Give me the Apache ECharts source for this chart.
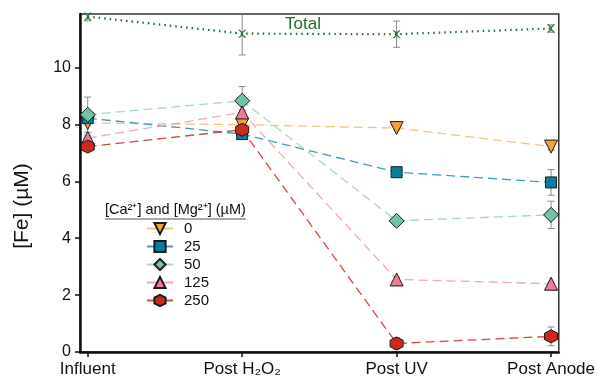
<!DOCTYPE html>
<html>
<head>
<meta charset="utf-8">
<script src="https://cdn.jsdelivr.net/npm/echarts@6/dist/echarts.min.js"></script>
<style>
  html, body { margin: 0; padding: 0; background: #fff; }
  #chart { width: 598px; height: 381px; }
</style>
</head>
<body>
<div id="chart"></div>
<script>
// sampling stages, placed at x = 0..3
const stages = ['Influent', 'Post H\u2082O\u2082', 'Post UV', 'Post Anode'];
const stageX = [0, 1, 2, 3];

const totalFe = [11.79, 11.19, 11.17, 11.37];
const totalErr = [0.15, 0.75, 0.46, 0.13];

const fe0 = [8.05, 7.99, 7.87, 7.22];
const err0 = [0.08, 0.1, 0.06, 0.12];
const fe25 = [8.22, 7.66, 6.32, 5.96];
const err25 = [0.08, 0.1, 0.06, 0.45];
const fe50 = [8.34, 8.83, 4.61, 4.82];
const err50 = [0.62, 0.5, 0.08, 0.48];
const fe125 = [7.52, 8.42, 2.55, 2.40];
const err125 = [0.1, 0.08, 0.08, 0.06];
const fe250 = [7.22, 7.81, 0.30, 0.55];
const err250 = [0.1, 0.1, 0.2, 0.33];

const legendNames = ['0', '25', '50', '125', '250'];
const yTicks = [0, 2, 4, 6, 8, 10];

const FONT = 'Liberation Sans, Arial, sans-serif';
const Y_MAX = 11.88;
const hexagon = 'path://M0,-10L8.66,-5L8.66,5L0,10L-8.66,5L-8.66,-5Z';
const cross = 'path://M0,0L2,0L5,3L8,0L10,0L6,4L6,6L10,10L8,10L5,7L2,10L0,10L4,6L4,4Z';

function pairs(vals) {
  return vals.map((v, i) => [stageX[i], v]);
}
function errData(vals, errs) {
  return vals.map((v, i) => [stageX[i], v - errs[i], v + errs[i]]);
}

const groups = [
  { name: '0', vals: fe0, errs: err0, symbol: 'triangle', rotate: 180, size: 13, mark: '#F5A335', line: '#F3C27B' },
  { name: '25', vals: fe25, errs: err25, symbol: 'rect', rotate: 0, size: 11, mark: '#0B7EA0', line: '#3D9CBC' },
  { name: '50', vals: fe50, errs: err50, symbol: 'diamond', rotate: 0, size: 15, mark: '#72C3A3', line: '#A4D8BF' },
  { name: '125', vals: fe125, errs: err125, symbol: 'triangle', rotate: 0, size: 13, mark: '#EF7C97', line: '#F2A7B8' },
  { name: '250', vals: fe250, errs: err250, symbol: hexagon, rotate: 0, size: 13, mark: '#CF291E', line: '#D24B40' }
];

function errorSeries(vals, errs) {
  return {
    type: 'custom',
    z: 1,
    silent: true,
    data: errData(vals, errs),
    renderItem: function (params, api) {
      const x = api.value(0);
      const lo = api.coord([x, api.value(1)]);
      const hi = api.coord([x, Math.min(api.value(2), Y_MAX)]);
      const capTop = api.value(2) < Y_MAX;
      const w = 3.5;
      const st = { stroke: '#8a8a8a', lineWidth: 1 };
      const kids = [
        { type: 'line', shape: { x1: lo[0], y1: lo[1], x2: hi[0], y2: hi[1] }, style: st },
        { type: 'line', shape: { x1: lo[0] - w, y1: lo[1], x2: lo[0] + w, y2: lo[1] }, style: st }
      ];
      if (capTop) {
        kids.push({ type: 'line', shape: { x1: hi[0] - w, y1: hi[1], x2: hi[0] + w, y2: hi[1] }, style: st });
      }
      return { type: 'group', children: kids };
    }
  };
}

const series = [];
series.push(errorSeries(totalFe, totalErr));
groups.forEach(g => series.push(errorSeries(g.vals, g.errs)));

series.push({
  name: 'Total',
  type: 'line',
  z: 3,
  data: pairs(totalFe),
  symbol: cross,
  symbolSize: 8,
  itemStyle: { color: '#1C6E33' },
  lineStyle: { color: '#1C6E33', width: 2.2, type: [1.5, 4] }
});

groups.forEach(g => {
  series.push({
    name: g.name,
    type: 'line',
    z: 3,
    data: pairs(g.vals),
    symbol: g.symbol,
    symbolRotate: g.rotate,
    symbolSize: g.size,
    itemStyle: { color: g.mark, borderColor: '#1a1a1a', borderWidth: 1 },
    lineStyle: { color: g.line, width: 1.3, type: [9, 5] }
  });
});

const chart = echarts.init(document.getElementById('chart'));
chart.setOption({
  animation: false,
  backgroundColor: '#fff',
  textStyle: { fontFamily: FONT },
  grid: {
    left: 80, right: 36, top: 14, bottom: 29,
    show: true, borderColor: '#333', borderWidth: 1.5, backgroundColor: 'transparent'
  },
  legend: {
    data: legendNames,
    orient: 'vertical',
    left: 141,
    top: 216,
    itemWidth: 26,
    itemHeight: 14,
    itemGap: 3,
    lineStyle: { type: 'solid' },
    textStyle: { fontFamily: FONT, fontSize: 15, color: '#111', padding: [0, 0, 0, 6] }
  },
  xAxis: {
    type: 'value',
    min: -0.05,
    max: 3.05,
    splitLine: { show: false },
    axisLine: { onZero: false, lineStyle: { color: '#111', width: 2.5 } },
    axisTick: { show: true, length: 5, lineStyle: { color: '#111', width: 1.5 }, customValues: stageX },
    axisLabel: {
      customValues: stageX,
      formatter: v => stages[Math.round(v)],
      color: '#111', fontSize: 17, fontFamily: FONT, margin: 9
    }
  },
  yAxis: {
    type: 'value',
    min: 0,
    max: Y_MAX,
    splitLine: { show: false },
    axisLine: { show: true, onZero: false, lineStyle: { color: '#111', width: 2.5 } },
    axisTick: { show: true, length: 5, lineStyle: { color: '#111', width: 1.5 }, customValues: yTicks },
    axisLabel: { customValues: yTicks, color: '#111', fontSize: 16, fontFamily: FONT, margin: 9 }
  },
  graphic: [
    {
      type: 'text', x: 22, y: 206, rotation: Math.PI / 2,
      style: { text: '[Fe] (\u00b5M)', font: '21px ' + FONT, fill: '#111', align: 'center', verticalAlign: 'middle' }
    },
    {
      type: 'text', x: 285, y: 24,
      style: { text: 'Total', font: '17px ' + FONT, fill: '#1C6E33', verticalAlign: 'middle' }
    },
    {
      type: 'text', x: 105, y: 210,
      style: { text: '[Ca\u00b2\u207a] and [Mg\u00b2\u207a] (\u00b5M)', font: '14.5px ' + FONT, fill: '#111', verticalAlign: 'middle' }
    },
    {
      type: 'line', shape: { x1: 105, y1: 219, x2: 246, y2: 219 },
      style: { stroke: '#555', lineWidth: 1 }
    }
  ],
  series: series
});
</script>
</body>
</html>
